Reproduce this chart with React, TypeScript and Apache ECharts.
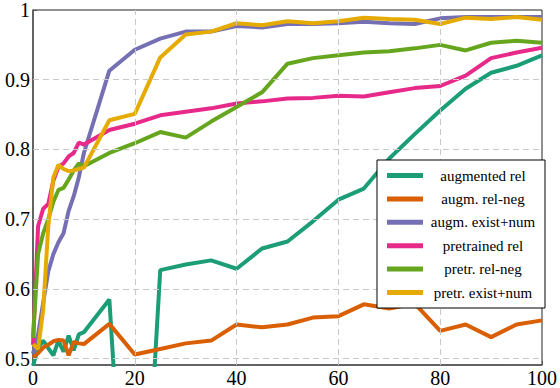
import React, { useEffect, useRef } from "react";
import * as echarts from "echarts";

const xs = [0, 1, 2, 3, 4, 5, 6, 7, 8, 9, 10, 15, 20, 25, 30, 35, 40, 45, 50, 55, 60, 65, 70, 75, 80, 85, 90, 95, 100];

const augmentedRel = [0.49, 0.515, 0.526, 0.515, 0.505, 0.526, 0.51, 0.533, 0.512, 0.535, 0.538, 0.585, 0.0, 0.627, 0.635, 0.641, 0.629, 0.658, 0.668, 0.697, 0.728, 0.744, 0.787, 0.822, 0.856, 0.887, 0.91, 0.92, 0.935];
const augmRelNeg = [0.502, 0.508, 0.516, 0.52, 0.525, 0.527, 0.526, 0.505, 0.524, 0.522, 0.521, 0.55, 0.506, 0.514, 0.522, 0.526, 0.549, 0.545, 0.549, 0.559, 0.561, 0.578, 0.572, 0.579, 0.54, 0.549, 0.531, 0.549, 0.555];
const augmExistNum = [0.507, 0.535, 0.58, 0.625, 0.65, 0.667, 0.68, 0.712, 0.733, 0.76, 0.795, 0.913, 0.943, 0.959, 0.969, 0.969, 0.977, 0.975, 0.98, 0.98, 0.981, 0.983, 0.981, 0.98, 0.988, 0.99, 0.99, 0.99, 0.99];
const pretrainedRel = [0.52, 0.69, 0.715, 0.722, 0.755, 0.775, 0.78, 0.79, 0.795, 0.81, 0.807, 0.828, 0.837, 0.849, 0.854, 0.859, 0.866, 0.869, 0.873, 0.874, 0.877, 0.876, 0.882, 0.888, 0.891, 0.906, 0.931, 0.939, 0.946];
const pretrRelNeg = [0.53, 0.65, 0.68, 0.7, 0.725, 0.742, 0.745, 0.757, 0.77, 0.78, 0.776, 0.795, 0.809, 0.825, 0.817, 0.84, 0.861, 0.882, 0.923, 0.931, 0.935, 0.939, 0.941, 0.945, 0.95, 0.942, 0.953, 0.956, 0.953];
const pretrExistNum = [0.521, 0.514, 0.57, 0.69, 0.76, 0.778, 0.772, 0.769, 0.77, 0.772, 0.774, 0.842, 0.851, 0.932, 0.965, 0.969, 0.981, 0.978, 0.984, 0.981, 0.984, 0.989, 0.987, 0.986, 0.98, 0.989, 0.987, 0.99, 0.986];

const seriesNames = ["augmented rel", "augm. rel-neg", "augm. exist+num", "pretrained rel", "pretr. rel-neg", "pretr. exist+num"];
const seriesValues = [augmentedRel, augmRelNeg, augmExistNum, pretrainedRel, pretrRelNeg, pretrExistNum];
const seriesColors = ["#1b9e77", "#d95f02", "#7570b3", "#e7298a", "#66a61e", "#e6ab02"];

const yTicks = [0.5, 0.6, 0.7, 0.8, 0.9, 1];
const gridY = [0.5, 0.6, 0.7, 0.8, 0.9];
const gridX = [20, 40, 60, 80];

const FONT = "Times New Roman, Liberation Serif, DejaVu Serif, serif";

export default function App() {
  const ref = useRef<HTMLDivElement>(null);
  useEffect(() => {
    if (!ref.current) return;
    const chart = echarts.init(ref.current, null, { renderer: "svg" });
    const lines = seriesNames.map((name, i) => ({
      name,
      type: "line",
      z: 3,
      data: xs.map((x, j) => [x, seriesValues[i][j]]),
      symbol: "none",
      clip: true,
      color: seriesColors[i],
      lineStyle: { width: 4, color: seriesColors[i] },
    }));
    const gridSeries = {
      name: "_grid",
      type: "line",
      z: 1,
      data: [],
      silent: true,
      markLine: {
        silent: true,
        symbol: "none",
        label: { show: false },
        lineStyle: { color: "#c8c8c8", type: [6, 4], width: 1 },
        data: [
          ...gridY.map((v) => ({ yAxis: v })),
          ...gridX.map((v) => ({ xAxis: v })),
        ],
      },
    };
    chart.setOption({
      animation: false,
      backgroundColor: "#fff",
      textStyle: { fontFamily: FONT },
      grid: {
        left: 33,
        right: 15,
        top: 8,
        bottom: 20,
        show: true,
        borderColor: "#222",
        borderWidth: 1,
        backgroundColor: "transparent",
      },
      xAxis: {
        type: "value",
        min: 0,
        max: 100,
        interval: 20,
        axisLine: { show: true, lineStyle: { color: "#555", width: 1.5 } },
        axisTick: { show: true, inside: true, length: 4, lineStyle: { color: "#555" } },
        splitLine: { show: false },
        axisLabel: { color: "#000", fontFamily: FONT, fontSize: 20, margin: 3 },
      },
      yAxis: {
        type: "value",
        min: 0.491,
        max: 1,
        axisLine: { show: true, lineStyle: { color: "#555", width: 1.5 } },
        axisTick: { show: true, inside: true, length: 4, customValues: yTicks, lineStyle: { color: "#555" } },
        splitLine: { show: false },
        axisLabel: {
          customValues: yTicks,
          color: "#000",
          fontFamily: FONT,
          fontSize: 20,
          margin: 3,
          formatter: (v: number) => String(Math.round(v * 10) / 10),
        },
      },
      legend: {
        data: seriesNames,
        orient: "vertical",
        left: 377,
        top: 160,
        padding: [8, 7, 8, 10],
        itemGap: 8.4,
        itemWidth: 36,
        itemHeight: 5,
        icon: "rect",
        borderColor: "#000",
        borderWidth: 1,
        backgroundColor: "#fff",
        z: 10,
        formatter: (n: string) => `{c|${n}}`,
        textStyle: {
          fontFamily: FONT,
          fontSize: 15,
          color: "#000",
          rich: {
            c: { width: 110, align: "center", fontFamily: FONT, fontSize: 15, lineHeight: 14 },
          },
        },
      },
      series: [gridSeries, ...lines],
    });
    return () => chart.dispose();
  }, []);
  return (
    <div
      ref={ref}
      style={{ position: "fixed", left: 0, top: 0, width: 560, height: 388 }}
    />
  );
}
